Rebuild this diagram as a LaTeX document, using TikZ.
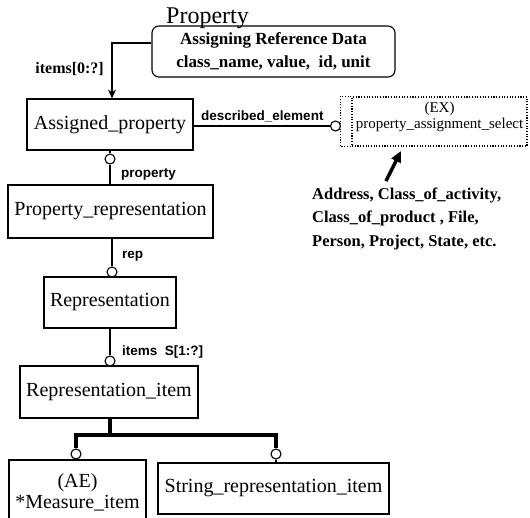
\documentclass[tikz,border=0pt]{standalone}
\usepackage{fontspec}
\setmainfont{Liberation Serif}
\newfontfamily\lsans{Liberation Sans}
\usetikzlibrary{arrows.meta,calc}

\begin{document}
\begin{tikzpicture}[x=1pt,y=-1pt,
  ent/.style={draw, line width=1.1pt, inner sep=0pt, align=center,
    font=\fontsize{20}{21}\selectfont},
  circ/.style={draw, circle, line width=1.1pt, fill=white,
    minimum size=10pt, inner sep=0pt},
  conn/.style={line width=1.1pt},
  role/.style={font=\lsans\bfseries\fontsize{13.5}{15}\selectfont, inner sep=0pt},
  tree/.style={line width=4.5pt},
  dotbox/.style={draw, line width=1.1pt, dash pattern=on 1.1pt off 1.6pt},
]
\useasboundingbox (0,0) rectangle (530,517);
\clip (0,0) rectangle (530,517);

% schema title and the reference-data box
\node[anchor=base, inner sep=0pt, font=\fontsize{24}{26}\selectfont] (title)
  at (207.5,23) {Property};
\node[draw, rounded corners=7pt, line width=1.1pt, minimum width=243pt,
  minimum height=51pt, inner sep=0pt, align=center,
  font=\bfseries\fontsize{17}{23}\selectfont] (rb) at (273.5,51.5)
  {Assigning Reference Data\\class\_name, value,\ \ id, unit};

% entities
\node[ent, minimum width=166pt, minimum height=51pt] (ap) at (110,124.5) {Assigned\_property};
\node[ent, minimum width=205pt, minimum height=53pt] (pr) at (110.5,211.5) {Property\_representation};
\node[ent, minimum width=132pt, minimum height=51pt] (rep) at (110,302.5) {Representation};
\node[ent, minimum width=178pt, minimum height=52pt] (ri) at (109,392) {Representation\_item};
\node[ent, minimum width=137pt, minimum height=64pt] (mi) at (77.5,492) {(AE)\\*Measure\_item};
\node[ent, minimum width=231pt, minimum height=51pt] (sri) at (273.5,488.5) {String\_representation\_item};

% external select type
\node[dotbox, minimum width=175pt, minimum height=49pt, inner sep=0pt] (ex) at (439.5,121.5) {};
\draw[dotbox] (ex.north west) -- ++(-11,0) |- (ex.south west);
\node[inner sep=0pt, align=center, font=\fontsize{15}{16}\selectfont] (exlbl)
  at (439.5,116.5) {(EX)\\property\_assignment\_select};

\node[anchor=north west, align=left, inner sep=0pt,
  font=\bfseries\fontsize{16.5}{23.5}\selectfont] (members) at (312,187.5)
  {Address, Class\_of\_activity,\\Class\_of\_product , File,\\Person, Project, State, etc.};
\coordinate (atail) at (386,181);
\coordinate (ahead) at (401,151);
\draw[line width=3.5pt, -{Triangle[length=11pt,width=10pt]}] (atail) -- (ahead);

% relationship circles
\node[circ] (k1) at (335.5,126) {};
\node[circ] (k2) at (110,159) {};
\node[circ] (k3) at (112,272) {};
\node[circ] (k4) at (110,361) {};
\node[circ] (k5) at (76,454) {};
\node[circ] (k6) at (276,454) {};

% relationships
\draw[conn, -{Stealth[length=9pt,width=8pt]}] ([yshift=8.5pt]rb.west) -| ([xshift=2pt]ap.north);
\draw[conn] (ap.east |- k1) -- (k1.west);
\draw[conn] (ap.south) -- (k2.north);
\draw[conn] (k2.south) -- (k2.south |- pr.north);
\draw[conn] (k3 |- pr.south) -- (k3.north);
\draw[conn] (k4 |- rep.south) -- (k4.north);

% subtype tree
\coordinate (j) at (110,435);
\draw[tree] (j |- ri.south) -- (j);
\draw[tree] (k5.north) -- (k5 |- j) -- (k6 |- j) -- (k6.north);
\draw[conn] (k6.south) -- (k6.south |- sri.north);

% role labels
\node[anchor=base east, inner sep=0pt, font=\bfseries\fontsize{16}{18}\selectfont] (l0)
  at (104,73) {items[0:?]};
\node[role, anchor=base west] (l1) at (201,120) {described\_element};
\node[role, anchor=base west] (l2) at (121,177) {property};
\node[role, anchor=base west] (l3) at (122,258) {rep};
\node[role, anchor=base west] (l4) at (122,355) {items\ \ S[1:?]};
\end{tikzpicture}
\end{document}
